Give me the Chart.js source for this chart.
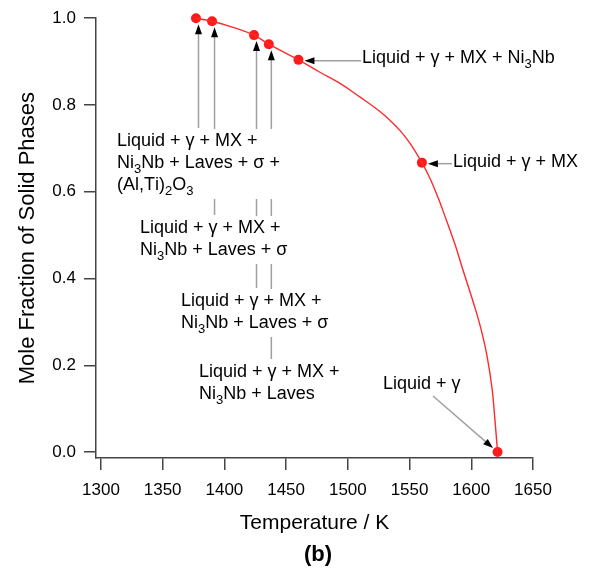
<!DOCTYPE html>
<html lang="en">
<head>
  <meta charset="UTF-8">
  <title>Mole Fraction of Solid Phases</title>
  <script src="https://cdn.jsdelivr.net/npm/chart.js"></script>
  <style>
    * {
      margin: 0;
      padding: 0;
      box-sizing: border-box;
    }

    body {
      background-color: #fff;
    }

    .chart-container {
      position: relative;
      width: 590px;
      height: 573px;
    }
  </style>
</head>
<body>
  <div class="chart-container">
    <canvas id="phaseChart"></canvas>
  </div>

  <script>
    // Solidification curve (K, mole fraction)
    const curveTemp = [1377, 1390, 1407, 1424, 1436, 1460, 1477, 1494, 1510, 1526, 1534, 1542, 1550, 1560,
                       1566.5, 1573, 1579.5, 1587, 1593, 1599, 1604, 1608, 1612.7, 1616.8, 1619.2, 1621.3];
    const curveFrac = [1.0, 0.993, 0.979, 0.961, 0.940, 0.904, 0.876, 0.849, 0.818, 0.785, 0.765, 0.742, 0.713, 0.667,
                       0.631, 0.587, 0.537, 0.477, 0.422, 0.369, 0.323, 0.282, 0.222, 0.147, 0.073, 0.0];

    // Marked phase-change points
    const markTemp = [1377, 1390, 1424, 1436, 1460, 1560, 1621.3];
    const markFrac = [1.0, 0.993, 0.961, 0.940, 0.904, 0.667, 0.0];

    const xTicks = [1300, 1350, 1400, 1450, 1500, 1550, 1600, 1650];
    const yTicks = [0.0, 0.2, 0.4, 0.6, 0.8, 1.0];

    // Phase labels ("_x" = subscript x), one per marked point
    const phaseLabels = [
      ['Liquid + γ + MX +', 'Ni_3Nb + Laves + σ +', '(Al,Ti)_2O_3'],
      ['Liquid + γ + MX +', 'Ni_3Nb + Laves + σ'],
      ['Liquid + γ + MX +', 'Ni_3Nb + Laves + σ'],
      ['Liquid + γ + MX +', 'Ni_3Nb + Laves'],
      ['Liquid + γ + MX + Ni_3Nb'],
      ['Liquid + γ + MX'],
      ['Liquid + γ']
    ];

    // where each label sits (canvas px) and how its arrow runs
    const labelLayout = [
      { x: 117, y: 141, arrow: 'up' },
      { x: 140, y: 228, arrow: 'up' },
      { x: 181, y: 301, arrow: 'up' },
      { x: 199, y: 372, arrow: 'up' },
      { x: 362, y: 58, arrow: 'left' },
      { x: 453, y: 162, arrow: 'left' },
      { x: 383, y: 384, arrow: 'diag', fromX: 433, fromY: 396 }
    ];

    const FONT = '"Liberation Sans", Arial, Helvetica, sans-serif';
    const LINE_H = 22;
    const DOT_R = 5;

    function drawRich(ctx, text, x, y, measureOnly) {
      let cx = x;
      let i = 0;
      while (i < text.length) {
        let sub = false;
        let ch = text[i];
        if (ch === '_' && i + 1 < text.length) {
          sub = true;
          ch = text[i + 1];
          i += 2;
        } else {
          i += 1;
        }
        ctx.font = (sub ? '13px ' : '18px ') + FONT;
        if (!measureOnly) ctx.fillText(ch, cx, sub ? y + 6 : y);
        cx += ctx.measureText(ch).width;
      }
      return cx - x;
    }

    function arrowHead(ctx, tipX, tipY, angle) {
      ctx.save();
      ctx.translate(tipX, tipY);
      ctx.rotate(angle);
      ctx.beginPath();
      ctx.moveTo(0, 0);
      ctx.lineTo(-10, -3.5);
      ctx.lineTo(-10, 3.5);
      ctx.closePath();
      ctx.fillStyle = '#000';
      ctx.fill();
      ctx.restore();
    }

    const phaseNotes = {
      id: 'phaseNotes',
      afterDraw(chart) {
        const ctx = chart.ctx;
        const xs = chart.scales.x;
        const ys = chart.scales.y;
        ctx.save();

        // leader lines + arrow heads first, labels cover them afterwards
        ctx.strokeStyle = '#a0a0a0';
        ctx.lineWidth = 1.5;
        labelLayout.forEach((lab, i) => {
          const px = xs.getPixelForValue(markTemp[i]);
          const py = ys.getPixelForValue(markFrac[i]);
          if (lab.arrow === 'up') {
            const lx = px + 2.5;
            const tip = py + DOT_R + 1;
            ctx.beginPath();
            ctx.moveTo(lx, lab.y - 13);
            ctx.lineTo(lx, tip + 8);
            ctx.stroke();
            arrowHead(ctx, lx, tip, -Math.PI / 2);
          } else if (lab.arrow === 'left') {
            const tip = px + DOT_R + 1;
            ctx.beginPath();
            ctx.moveTo(lab.x - 1, py + 1);
            ctx.lineTo(tip + 8, py + 1);
            ctx.stroke();
            arrowHead(ctx, tip, py + 1, Math.PI);
          } else {
            const ang = Math.atan2(py - lab.fromY, px - lab.fromX);
            const tx = px - Math.cos(ang) * (DOT_R + 1);
            const ty = py - Math.sin(ang) * (DOT_R + 1);
            ctx.beginPath();
            ctx.moveTo(lab.fromX, lab.fromY);
            ctx.lineTo(tx - Math.cos(ang) * 8, ty - Math.sin(ang) * 8);
            ctx.stroke();
            arrowHead(ctx, tx, ty, ang);
          }
        });

        // label boxes and text
        ctx.textBaseline = 'middle';
        ctx.textAlign = 'left';
        labelLayout.forEach((lab, i) => {
          const lines = phaseLabels[i];
          let w = 0;
          lines.forEach(t => { w = Math.max(w, drawRich(ctx, t, 0, 0, true)); });
          if (lab.arrow === 'up') {
            ctx.fillStyle = '#fff';
            ctx.fillRect(lab.x - 3, lab.y - 12, w + 6, LINE_H * (lines.length - 1) + 26);
          }
          ctx.fillStyle = '#000';
          lines.forEach((t, k) => drawRich(ctx, t, lab.x, lab.y + k * LINE_H, false));
        });

        // panel letter under the axis title
        ctx.font = 'bold 22px ' + FONT;
        ctx.textAlign = 'center';
        ctx.fillText('(b)', 318, 555);

        ctx.restore();
      }
    };

    const ctx = document.getElementById('phaseChart').getContext('2d');
    new Chart(ctx, {
      type: 'scatter',
      data: {
        datasets: [
          {
            data: curveTemp.map((t, i) => ({ x: t, y: curveFrac[i] })),
            showLine: true,
            borderColor: '#ff2a2a',
            borderWidth: 1.4,
            pointRadius: 0,
            tension: 0.4,
            clip: false
          },
          {
            data: markTemp.map((t, i) => ({ x: t, y: markFrac[i] })),
            showLine: false,
            pointRadius: DOT_R,
            pointBackgroundColor: '#ff1a1a',
            pointBorderWidth: 0,
            clip: false
          }
        ]
      },
      options: {
        responsive: true,
        maintainAspectRatio: false,
        animation: false,
        layout: {
          padding: { top: 16, right: 57, left: 0, bottom: 31 }
        },
        plugins: {
          legend: { display: false },
          tooltip: { enabled: false }
        },
        scales: {
          x: {
            type: 'linear',
            min: 1296,
            max: 1650,
            afterBuildTicks: s => { s.ticks = xTicks.map(v => ({ value: v })); },
            afterFit: s => { s.height = 84; },
            grid: { drawOnChartArea: false, tickLength: 12, color: '#444', lineWidth: 1.5 },
            border: { color: '#444', width: 1.5 },
            ticks: {
              color: '#000',
              padding: 10,
              maxRotation: 0,
              font: { family: FONT, size: 17 },
              callback: v => String(v)
            },
            title: {
              display: true,
              text: 'Temperature / K',
              color: '#000',
              padding: 6,
              font: { family: FONT, size: 21 }
            }
          },
          y: {
            min: -0.0138,
            max: 1.0,
            afterBuildTicks: s => { s.ticks = yTicks.map(v => ({ value: v })); },
            afterFit: s => { s.width = 96; },
            grid: { drawOnChartArea: false, tickLength: 12, color: '#444', lineWidth: 1.5 },
            border: { color: '#444', width: 1.5 },
            ticks: {
              color: '#000',
              padding: 8,
              font: { family: FONT, size: 17 },
              callback: v => v.toFixed(1)
            },
            title: {
              display: true,
              text: 'Mole Fraction of Solid Phases',
              color: '#000',
              padding: 15,
              font: { family: FONT, size: 22 }
            }
          }
        }
      },
      plugins: [phaseNotes]
    });
  </script>
</body>
</html>
